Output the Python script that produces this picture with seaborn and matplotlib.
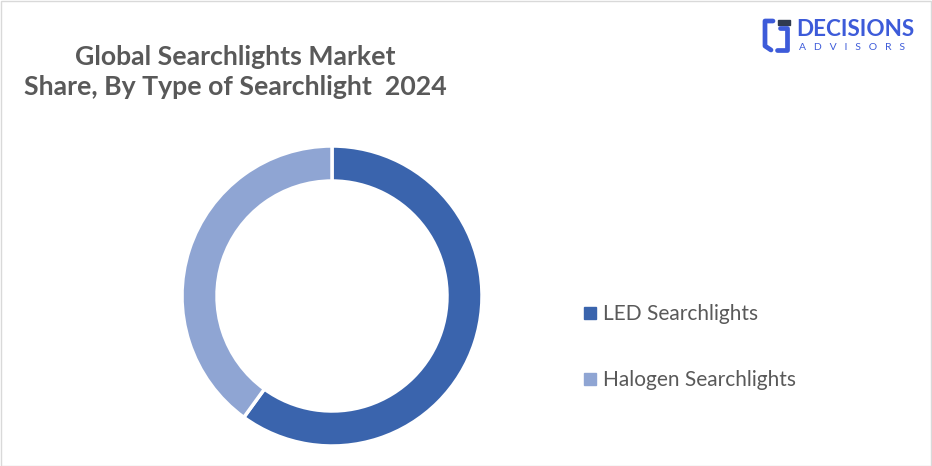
import matplotlib
matplotlib.use("Agg")
import matplotlib.pyplot as plt
from matplotlib.lines import Line2D
from matplotlib.patches import Rectangle
import seaborn as sns

# data
types = ["LED Searchlights", "Halogen Searchlights"]
shares = [60, 40]
colors = ["#3A64AD", "#8FA5D3"]
title = "Global Searchlights Market\nShare, By Type of Searchlight  2024"

sns.set_theme(style="white")
plt.rcParams["font.family"] = ["Lato", "DejaVu Sans"]

W, H = 932, 466
fig = plt.figure(figsize=(W / 100, H / 100), dpi=100)
fig.patch.set_facecolor("white")

# donut: center (332, 296), outer radius 150 px
cx, cy, r = 332, 296, 150
ax = fig.add_axes([(cx - r) / W, (H - cy - r) / H, 2 * r / W, 2 * r / H])
ax.pie(shares, colors=colors, startangle=90, counterclock=False, radius=1.0,
       wedgeprops=dict(width=35 / 150, edgecolor="white", linewidth=2.5))
ax.set_aspect("equal")
ax.set_xlim(-1, 1)
ax.set_ylim(-1, 1)
ax.axis("off")

# title
fig.text(235 / W, 1 - 72 / H, title, ha="center", va="center",
         fontsize=19.2, fontweight="bold", color="#595959", linespacing=1.27)

# legend
handles = [Line2D([], [], marker="s", linestyle="", markersize=8,
                  markerfacecolor=c, markeredgecolor=c) for c in colors]
fig.legend(handles, types, loc="upper left", bbox_to_anchor=(569 / W, 1 - 294 / H),
           frameon=False, fontsize=15, labelcolor="#595959", handletextpad=0.15,
           labelspacing=2.2, handlelength=1.0, borderpad=0)

# logo
blue = "#3D5BD9"
fig.text(796 / W, 1 - 30 / H, "DECISIONS", ha="left", va="center",
         fontsize=16.2, fontweight="bold", color=blue)
fig.text(799 / W, 1 - 48 / H, "A   D   V   I   S   O   R   S", ha="left", va="center",
         fontsize=7.5, color=blue)
lw = 3.4
fig.add_artist(Line2D([773 / W, 765 / W, 765 / W, 771 / W],
                      [1 - 21 / H, 1 - 21 / H, 1 - 46 / H, 1 - 50 / H],
                      color=blue, lw=lw, transform=fig.transFigure))
fig.add_artist(Line2D([777 / W, 787 / W, 787 / W, 780 / W],
                      [1 - 50 / H, 1 - 50 / H, 1 - 28 / H, 1 - 28 / H],
                      color=blue, lw=lw, transform=fig.transFigure))
fig.add_artist(Rectangle((778 / W, 1 - 25 / H), 12 / W, 5 / H,
                         color="#2F3A4F", transform=fig.transFigure))

# frame
fig.add_artist(Rectangle((0.5 / W, 0.5 / H), 1 - 1.5 / W, 1 - 1.5 / H, fill=False,
                         edgecolor="#D9D9D9", lw=1, transform=fig.transFigure))

fig.savefig("out.png", dpi=100, facecolor="white")
